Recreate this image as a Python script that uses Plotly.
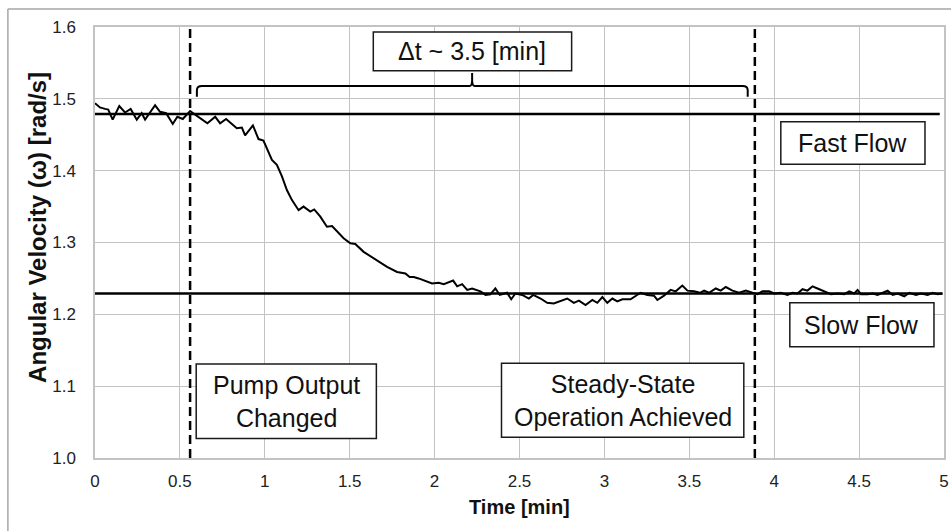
import plotly.graph_objects as go

# Angular velocity record after the pump output change
time_min = [
    0.000, 0.029, 0.059, 0.078, 0.104, 0.143, 0.177, 0.210, 0.246, 0.275,
    0.295, 0.324, 0.354, 0.383, 0.419, 0.458, 0.485, 0.517, 0.560, 0.596,
    0.629, 0.662, 0.708, 0.737, 0.772, 0.806, 0.835, 0.865, 0.884, 0.930,
    0.963, 0.992, 1.008, 1.042, 1.071, 1.101, 1.130, 1.160, 1.199, 1.228,
    1.268, 1.291, 1.327, 1.366, 1.396, 1.435, 1.464, 1.504, 1.533, 1.582,
    1.641, 1.720, 1.779, 1.828, 1.853, 1.877, 1.906, 1.946, 1.985, 2.024,
    2.054, 2.109, 2.133, 2.162, 2.192, 2.221, 2.270, 2.300, 2.329, 2.358,
    2.384, 2.427, 2.451, 2.476, 2.516, 2.555, 2.581, 2.624, 2.663, 2.702,
    2.742, 2.781, 2.820, 2.850, 2.889, 2.929, 2.958, 2.988, 3.017, 3.047,
    3.076, 3.106, 3.154, 3.184, 3.213, 3.253, 3.292, 3.312, 3.351, 3.390,
    3.420, 3.459, 3.489, 3.528, 3.563, 3.587, 3.616, 3.656, 3.685, 3.715,
    3.754, 3.793, 3.833, 3.872, 3.902, 3.931, 3.970, 4.000, 4.039, 4.078,
    4.108, 4.137, 4.167, 4.196, 4.226, 4.255, 4.294, 4.334, 4.373, 4.412,
    4.442, 4.471, 4.491, 4.511, 4.550, 4.580, 4.609, 4.639, 4.668, 4.698,
    4.727, 4.766, 4.796, 4.835, 4.864, 4.904, 4.933, 4.963, 4.992,
]
omega = [
    1.494, 1.488, 1.486, 1.485, 1.471, 1.490, 1.481, 1.486, 1.471, 1.480,
    1.471, 1.480, 1.491, 1.482, 1.480, 1.465, 1.475, 1.472, 1.483, 1.477,
    1.472, 1.466, 1.475, 1.466, 1.472, 1.465, 1.459, 1.460, 1.449, 1.463,
    1.444, 1.442, 1.433, 1.415, 1.408, 1.392, 1.373, 1.359, 1.345, 1.350,
    1.343, 1.346, 1.336, 1.322, 1.323, 1.313, 1.306, 1.299, 1.298, 1.287,
    1.278, 1.266, 1.259, 1.257, 1.252, 1.252, 1.250, 1.246, 1.243, 1.244,
    1.242, 1.247, 1.239, 1.242, 1.234, 1.236, 1.232, 1.227, 1.228, 1.236,
    1.227, 1.230, 1.221, 1.229, 1.227, 1.222, 1.227, 1.222, 1.216, 1.215,
    1.218, 1.222, 1.216, 1.219, 1.213, 1.220, 1.216, 1.224, 1.216, 1.222,
    1.218, 1.221, 1.221, 1.226, 1.230, 1.227, 1.226, 1.220, 1.226, 1.234,
    1.232, 1.240, 1.233, 1.232, 1.230, 1.233, 1.230, 1.236, 1.233, 1.238,
    1.233, 1.230, 1.233, 1.230, 1.228, 1.232, 1.232, 1.229, 1.230, 1.227,
    1.230, 1.229, 1.235, 1.233, 1.239, 1.236, 1.232, 1.228, 1.229, 1.228,
    1.232, 1.229, 1.234, 1.228, 1.228, 1.229, 1.227, 1.230, 1.233, 1.227,
    1.229, 1.225, 1.230, 1.227, 1.229, 1.227, 1.230, 1.228, 1.229,
]

# Reference levels and event times
fast_flow_level = 1.479
slow_flow_level = 1.229
fast_line_span = [0.0, 4.975]
slow_line_span = [0.0, 4.99]
pump_change_time = 0.56
steady_state_time = 3.886

x_ticks = [0, 0.5, 1, 1.5, 2, 2.5, 3, 3.5, 4, 4.5, 5]
x_tick_labels = ["0", "0.5", "1", "1.5", "2", "2.5", "3", "3.5", "4", "4.5", "5"]
y_ticks = [1.0, 1.1, 1.2, 1.3, 1.4, 1.5, 1.6]
y_tick_labels = ["1.0", "1.1", "1.2", "1.3", "1.4", "1.5", "1.6"]

FONT = "Liberation Sans, Arial, sans-serif"
GRID = "#c3c3c3"

fig = go.Figure()

fig.add_trace(go.Scatter(
    x=time_min, y=omega, mode="lines",
    line=dict(color="black", width=2), hoverinfo="skip", showlegend=False,
))
fig.add_trace(go.Scatter(
    x=fast_line_span, y=[fast_flow_level, fast_flow_level], mode="lines",
    line=dict(color="black", width=2.5), showlegend=False,
))
fig.add_trace(go.Scatter(
    x=slow_line_span, y=[slow_flow_level, slow_flow_level], mode="lines",
    line=dict(color="black", width=2.5), showlegend=False,
))
for t_event in (pump_change_time, steady_state_time):
    fig.add_trace(go.Scatter(
        x=[t_event, t_event], y=[1.0, 1.605], mode="lines",
        line=dict(color="black", width=2.5, dash="9px,5px"), showlegend=False,
        cliponaxis=False,
    ))

shapes = []

# Brace spanning the transition interval
bx0, bx1, bmid = 0.600, 3.844, 2.221
by, bfoot, btip = 1.518, 1.503, 1.536
brace = (
    f"M {bx0},{bfoot} L {bx0},{by - 0.006} Q {bx0},{by} {bx0 + 0.03},{by} "
    f"L {bmid - 0.015},{by} Q {bmid},{by} {bmid},{by + 0.008} L {bmid},{btip} "
    f"M {bmid},{by + 0.008} Q {bmid},{by} {bmid + 0.015},{by} "
    f"L {bx1 - 0.03},{by} Q {bx1},{by} {bx1},{by - 0.006} L {bx1},{bfoot}"
)
shapes.append(dict(type="path", path=brace, xref="x", yref="y",
                   line=dict(color="black", width=2)))

# Label boxes: (x0, x1, y0, y1, text)
boxes = [
    (1.639, 2.807, 1.539, 1.593, "Δt ~ 3.5 [min]"),
    (4.039, 4.888, 1.409, 1.468, "Fast Flow"),
    (4.092, 4.941, 1.155, 1.216, "Slow Flow"),
    (0.596, 1.657, 1.027, 1.131, "Pump Output<br>Changed"),
    (2.394, 3.821, 1.029, 1.132, "Steady-State<br>Operation Achieved"),
]
annotations = []
for x0, x1, y0, y1, txt in boxes:
    shapes.append(dict(type="rect", xref="x", yref="y", x0=x0, x1=x1, y0=y0, y1=y1,
                       line=dict(color="#1a1a1a", width=1.5), fillcolor="white",
                       layer="above"))
    annotations.append(dict(x=(x0 + x1) / 2, y=(y0 + y1) / 2, xref="x", yref="y",
                            text=txt, showarrow=False, xanchor="center", yanchor="middle",
                            font=dict(family=FONT, size=25, color="#111111")))

# Chart-area frame (top and left edges)
shapes.append(dict(type="line", xref="paper", yref="paper", x0=-0.1026, x1=-0.1026,
                   y0=1.0418, y1=-0.25, line=dict(color="#a6a6a6", width=1.5)))
shapes.append(dict(type="line", xref="paper", yref="paper", x0=-0.1026, x1=1.05,
                   y0=1.0418, y1=1.0418, line=dict(color="#a6a6a6", width=1.5)))

annotations.append(dict(x=0.5, y=-0.1137, xref="paper", yref="paper",
                        text="<b>Time [min]</b>", showarrow=False,
                        xanchor="center", yanchor="middle",
                        font=dict(family=FONT, size=20, color="#111111")))
annotations.append(dict(x=-0.0672, y=0.536, xref="paper", yref="paper",
                        text="<b>Angular Velocity (ω) [rad/s]</b>", showarrow=False,
                        textangle=-90, xanchor="center", yanchor="middle",
                        font=dict(family=FONT, size=24, color="#111111")))

fig.update_layout(
    width=951, height=531, autosize=False,
    margin=dict(l=95, r=2, t=27, b=73),
    paper_bgcolor="white", plot_bgcolor="white",
    shapes=shapes, annotations=annotations,
    font=dict(family=FONT, color="#222222"),
)
fig.update_xaxes(
    range=[0, 5], tickvals=x_ticks, ticktext=x_tick_labels,
    showgrid=True, gridcolor=GRID, gridwidth=1,
    showline=True, linecolor=GRID, linewidth=1.5, mirror=True,
    zeroline=False, ticks="", ticklabelstandoff=7, ticklabeloverflow="allow",
    tickfont=dict(family=FONT, size=17, color="#222222"),
)
fig.update_yaxes(
    range=[1.0, 1.6], tickvals=y_ticks, ticktext=y_tick_labels,
    showgrid=True, gridcolor=GRID, gridwidth=1,
    showline=True, linecolor=GRID, linewidth=1.5, mirror=True,
    zeroline=False, ticks="", ticklabelstandoff=14,
    tickfont=dict(family=FONT, size=17, color="#222222"),
)

fig.write_html("out.html")
